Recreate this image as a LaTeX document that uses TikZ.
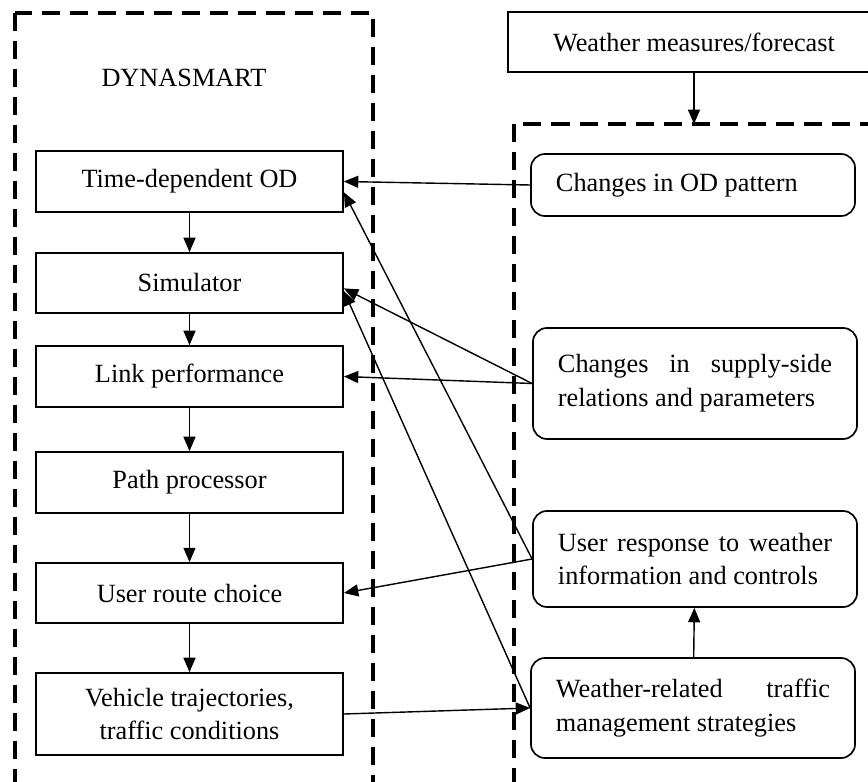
\documentclass[tikz,border=0pt]{standalone}
\usepackage{fontspec}
\setmainfont{Liberation Serif}
\usepackage{tikz}
\usetikzlibrary{arrows.meta, positioning, calc}

\begin{document}
\begin{tikzpicture}[
        x=0.025cm, y=-0.025cm,
        font=\fontsize{18.7}{24}\selectfont,
        block/.style={rectangle, draw, line width=1.2pt, minimum width=7.675cm, minimum height=1.525cm, align=center, inner sep=0pt},
        rbox/.style={rectangle, draw, rounded corners=0.35cm, line width=1.2pt, text width=6.85cm, inner xsep=0.625cm, minimum height=1.55cm, align=justify},
        frame/.style={line width=2.8pt, dash pattern=on 0.45cm off 0.25cm},
        arrow/.style={-{Triangle[length=3.6mm, width=3mm]}, line width=1pt}
    ]
        \useasboundingbox (0,0) rectangle (868,782);
        \clip (0,0) rectangle (868,782);
        % dashed frames
        \draw[frame] (15,13) rectangle (373,784);
        \draw[frame] (514,124) rectangle (890,784);
        \coordinate (rtop) at (694,124);
        \node (dyna) at (184,78) {DYNASMART};
        % DYNASMART modules
        \node[block] (tdod) at (189.5,181.5) {Time-dependent OD};
        \node[block, minimum height=1.5cm] (sim) at (189.5,283) {Simulator};
        \node[block] (link) at (189.5,376.5) {Link performance};
        \node[block] (path) at (189.5,482.5) {Path processor};
        \node[block, minimum height=1.5cm] (route) at (189.5,593) {User route choice};
        \node[block, minimum height=2.05cm] (veh) at (189.5,714) {Vehicle trajectories,\\traffic conditions};
        % weather side
        \node[block, minimum width=9.3cm, minimum height=1.5cm] (wx) at (694,42) {Weather measures/forecast};
        \node[rbox] (odp) at (693,185) {Changes in OD pattern};
        \node[rbox, minimum height=2.775cm] (supply) at (695,383.5) {Changes in supply-side\linebreak relations and parameters};
        \node[rbox, minimum height=2.4cm] (resp) at (695,559) {User response to weather\linebreak information and controls};
        \node[rbox, minimum height=2.5cm] (strat) at (693,708) {Weather-related traffic\linebreak management strategies};
        \draw[arrow] (tdod) -- (sim);
        \draw[arrow] (sim) -- (link);
        \draw[arrow] (link) -- (path);
        \draw[arrow] (path) -- (route);
        \draw[arrow] (route) -- (veh);
        \draw[arrow] (wx) -- (rtop);
        \draw[arrow] (odp.west) -- (tdod.east);
        \draw[arrow] (resp.west) -- (tdod.-4);
        \draw[arrow] (supply.west) -- (sim.-2);
        \draw[arrow] (supply.west) -- (link.east);
        \draw[arrow] (resp.west) -- (route.east);
        \draw[arrow] (strat.west) -- (sim.-3);
        \draw[arrow] (veh.east) -- (strat.west);
        \draw[arrow] (strat) -- (resp);
    \end{tikzpicture}
\end{document}
